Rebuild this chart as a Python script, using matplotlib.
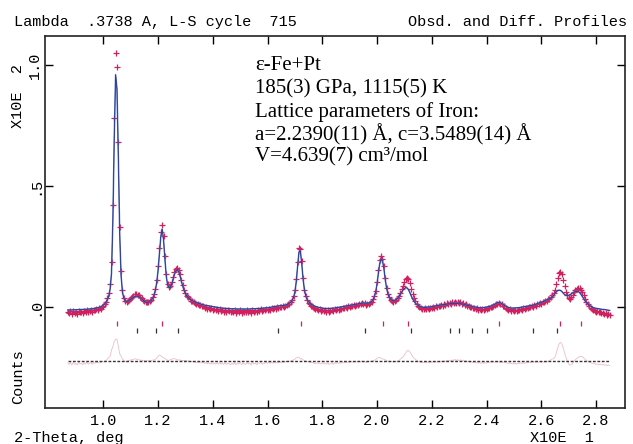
import numpy as np
import matplotlib.pyplot as plt

MONO = 'Liberation Mono'
SERIF = 'Liberation Serif'

# 2-theta grid (x10 deg), one point every 0.005
tt_start = 0.870
tt_step = 0.005

# observed profile, rows of 10 points (0.05 wide)
obs = [
    -0.020, -0.026, -0.018, -0.028, -0.017, -0.024, -0.021, -0.027, -0.015, -0.022,
    -0.019, -0.025, -0.016, -0.022, -0.013, -0.021, -0.018, -0.012, -0.020, -0.011,
    -0.014, -0.008, -0.012, -0.004, -0.006, 0.002, 0.004, 0.012, 0.022, 0.038,
    0.060, 0.095, 0.185, 0.420, 0.780, 1.050, 0.990, 0.680, 0.330, 0.150,
    0.070, 0.038, 0.024, 0.020, 0.026, 0.031, 0.036, 0.042, 0.047, 0.052,
    0.054, 0.050, 0.049, 0.042, 0.038, 0.030, 0.026, 0.020, 0.022, 0.019,
    0.026, 0.030, 0.040, 0.052, 0.075, 0.112, 0.170, 0.245, 0.312, 0.338,
    0.295, 0.210, 0.135, 0.095, 0.082, 0.088, 0.102, 0.125, 0.145, 0.158,
    0.160, 0.152, 0.135, 0.110, 0.090, 0.072, 0.058, 0.047, 0.040, 0.033,
    0.027, 0.026, 0.019, 0.018, 0.012, 0.014, 0.008, 0.009, 0.003, 0.005,
    -0.002, 0.001, -0.006, -0.002, -0.009, -0.004, -0.011, -0.006, -0.013, -0.008,
    -0.015, -0.009, -0.017, -0.012, -0.019, -0.011, -0.020, -0.014, -0.018, -0.022,
    -0.015, -0.021, -0.013, -0.024, -0.016, -0.020, -0.012, -0.023, -0.017, -0.019,
    -0.022, -0.014, -0.020, -0.016, -0.023, -0.011, -0.019, -0.015, -0.021, -0.013,
    -0.016, -0.010, -0.018, -0.012, -0.014, -0.008, -0.013, -0.006, -0.011, -0.004,
    -0.008, -0.002, -0.006, 0.000, -0.003, 0.002, -0.001, 0.004, 0.001, 0.006,
    0.007, 0.012, 0.014, 0.022, 0.030, 0.045, 0.070, 0.118, 0.185, 0.245,
    0.240, 0.190, 0.120, 0.072, 0.044, 0.030, 0.018, 0.012, 0.005, 0.002,
    -0.004, -0.008, -0.006, -0.012, -0.010, -0.015, -0.011, -0.017, -0.014, -0.019,
    -0.013, -0.020, -0.015, -0.012, -0.018, -0.010, -0.014, -0.008, -0.011, -0.006,
    -0.008, -0.003, -0.005, 0.000, -0.002, 0.003, 0.001, 0.006, 0.004, 0.008,
    0.006, 0.010, 0.009, 0.014, 0.011, 0.016, 0.013, 0.015, 0.010, 0.013,
    0.014, 0.018, 0.022, 0.032, 0.045, 0.068, 0.105, 0.155, 0.195, 0.210,
    0.200, 0.168, 0.120, 0.080, 0.052, 0.040, 0.030, 0.026, 0.022, 0.026,
    0.028, 0.036, 0.046, 0.060, 0.075, 0.088, 0.102, 0.114, 0.122, 0.115,
    0.098, 0.075, 0.052, 0.036, 0.024, 0.014, 0.006, 0.002, -0.004, -0.006,
    -0.008, -0.004, -0.009, -0.003, -0.007, -0.002, -0.005, 0.001, -0.002, 0.003,
    0.001, 0.006, 0.003, 0.009, 0.006, 0.012, 0.009, 0.015, 0.012, 0.018,
    0.014, 0.020, 0.016, 0.022, 0.017, 0.021, 0.015, 0.019, 0.012, 0.016,
    0.008, 0.011, 0.003, 0.006, -0.001, 0.002, -0.005, -0.002, -0.008, -0.005,
    -0.011, -0.007, -0.013, -0.009, -0.012, -0.006, -0.009, -0.003, -0.005, 0.001,
    0.000, 0.006, 0.007, 0.012, 0.013, 0.016, 0.012, 0.011, 0.005, 0.003,
    -0.004, -0.006, -0.011, -0.009, -0.015, -0.012, -0.017, -0.013, -0.016, -0.011,
    -0.013, -0.008, -0.011, -0.005, -0.008, -0.002, -0.004, 0.001, -0.001, 0.004,
    0.002, 0.008, 0.006, 0.012, 0.011, 0.016, 0.014, 0.020, 0.019, 0.024,
    0.026, 0.032, 0.035, 0.042, 0.048, 0.058, 0.072, 0.095, 0.122, 0.140,
    0.146, 0.138, 0.112, 0.088, 0.064, 0.048, 0.036, 0.034, 0.040, 0.050,
    0.062, 0.070, 0.076, 0.079, 0.078, 0.072, 0.062, 0.048, 0.034, 0.022,
    0.012, 0.004, -0.002, -0.008, -0.011, -0.015, -0.019, -0.018, -0.022, -0.021,
    -0.025, -0.023, -0.028, -0.026, -0.031, -0.029, -0.033,
]

# calculated profile, same grid
calc = [
    -0.012, -0.012, -0.012, -0.012, -0.011, -0.011, -0.011, -0.011, -0.010, -0.010,
    -0.010, -0.010, -0.009, -0.009, -0.009, -0.008, -0.008, -0.007, -0.007, -0.006,
    -0.005, -0.004, -0.003, -0.001, 0.001, 0.004, 0.008, 0.013, 0.020, 0.030,
    0.045, 0.075, 0.140, 0.360, 0.700, 0.960, 0.900, 0.620, 0.300, 0.130,
    0.062, 0.036, 0.026, 0.024, 0.025, 0.028, 0.032, 0.036, 0.040, 0.043,
    0.045, 0.045, 0.043, 0.039, 0.034, 0.029, 0.024, 0.021, 0.019, 0.020,
    0.023, 0.028, 0.036, 0.048, 0.068, 0.100, 0.150, 0.220, 0.290, 0.322,
    0.280, 0.200, 0.128, 0.092, 0.080, 0.082, 0.095, 0.115, 0.135, 0.150,
    0.155, 0.148, 0.130, 0.108, 0.088, 0.070, 0.056, 0.046, 0.039, 0.034,
    0.030, 0.027, 0.024, 0.021, 0.019, 0.017, 0.015, 0.013, 0.011, 0.010,
    0.008, 0.007, 0.006, 0.005, 0.004, 0.003, 0.002, 0.001, 0.000, -0.001,
    -0.002, -0.003, -0.004, -0.004, -0.005, -0.005, -0.006, -0.006, -0.006, -0.007,
    -0.007, -0.007, -0.007, -0.008, -0.008, -0.008, -0.008, -0.008, -0.008, -0.008,
    -0.008, -0.008, -0.008, -0.008, -0.007, -0.007, -0.007, -0.007, -0.006, -0.006,
    -0.006, -0.005, -0.005, -0.004, -0.004, -0.003, -0.003, -0.002, -0.001, 0.000,
    0.001, 0.002, 0.003, 0.004, 0.005, 0.005, 0.006, 0.006, 0.007, 0.008,
    0.010, 0.012, 0.016, 0.021, 0.028, 0.040, 0.062, 0.105, 0.170, 0.228,
    0.232, 0.180, 0.115, 0.070, 0.045, 0.031, 0.022, 0.016, 0.011, 0.008,
    0.005, 0.003, 0.001, -0.001, -0.002, -0.003, -0.004, -0.005, -0.006, -0.006,
    -0.006, -0.006, -0.005, -0.005, -0.004, -0.004, -0.003, -0.002, -0.001, 0.000,
    0.001, 0.002, 0.003, 0.004, 0.005, 0.006, 0.007, 0.008, 0.009, 0.010,
    0.011, 0.012, 0.013, 0.014, 0.015, 0.016, 0.017, 0.017, 0.016, 0.016,
    0.017, 0.019, 0.023, 0.030, 0.042, 0.062, 0.095, 0.140, 0.180, 0.198,
    0.192, 0.160, 0.115, 0.078, 0.054, 0.040, 0.032, 0.028, 0.027, 0.028,
    0.031, 0.036, 0.044, 0.052, 0.062, 0.071, 0.077, 0.080, 0.079, 0.072,
    0.060, 0.046, 0.034, 0.024, 0.017, 0.011, 0.007, 0.004, 0.002, 0.000,
    -0.001, -0.001, -0.001, 0.000, 0.000, 0.001, 0.002, 0.003, 0.004, 0.005,
    0.006, 0.007, 0.008, 0.009, 0.010, 0.011, 0.011, 0.012, 0.013, 0.014,
    0.014, 0.015, 0.015, 0.015, 0.015, 0.015, 0.014, 0.014, 0.013, 0.012,
    0.010, 0.009, 0.007, 0.006, 0.005, 0.004, 0.002, 0.001, 0.000, -0.001,
    -0.002, -0.003, -0.003, -0.003, -0.002, -0.001, 0.000, 0.001, 0.002, 0.004,
    0.006, 0.009, 0.012, 0.015, 0.018, 0.019, 0.018, 0.015, 0.011, 0.007,
    0.004, 0.001, -0.001, -0.003, -0.004, -0.004, -0.004, -0.004, -0.003, -0.003,
    -0.002, -0.001, 0.000, 0.001, 0.002, 0.003, 0.004, 0.005, 0.006, 0.007,
    0.008, 0.010, 0.012, 0.014, 0.016, 0.018, 0.020, 0.022, 0.024, 0.027,
    0.030, 0.032, 0.035, 0.037, 0.040, 0.048, 0.056, 0.063, 0.068, 0.070,
    0.069, 0.065, 0.058, 0.052, 0.048, 0.047, 0.048, 0.051, 0.055, 0.059,
    0.062, 0.064, 0.065, 0.064, 0.060, 0.053, 0.044, 0.035, 0.026, 0.019,
    0.013, 0.008, 0.004, 0.001, -0.002, -0.004, -0.005, -0.006, -0.007, -0.008,
    -0.009, -0.010, -0.010, -0.011, -0.012, -0.013, -0.014,
]

# reflection markers
pt_ticks = [1.049, 1.214, 1.722, 2.022, 2.112, 2.447, 2.670, 2.745]
fe_ticks = [1.123, 1.191, 1.272, 1.640, 1.957, 2.123, 2.265, 2.299,
            2.346, 2.400, 2.569, 2.657]

diff_offset = -0.223

x_ticks = [1.0, 1.2, 1.4, 1.6, 1.8, 2.0, 2.2, 2.4, 2.6, 2.8]
y_ticks = [0.0, 0.5, 1.0]
y_ticklabels = ['.0', '.5', '1.0']

two_theta = tt_start + tt_step * np.arange(len(obs))
obs = np.array(obs)
calc = np.array(calc)
diff = obs - calc

red = '#d2205e'
fig = plt.figure(figsize=(6.33, 4.44), dpi=100)
ax = fig.add_axes([45 / 633, 1 - 408 / 444, 580 / 633, 372 / 444])

ax.plot(two_theta, obs, '+', color=red, ms=5, mew=0.9, zorder=2)
ax.plot(two_theta, calc, color='#5573d0', lw=1.1, zorder=3)
ax.plot(two_theta, calc, color='#1c1f5a', lw=0.5, alpha=0.8, zorder=4)

# difference curve
ax.plot(two_theta, diff + diff_offset, color='#f0bccd', lw=0.6, zorder=2)
ax.hlines(diff_offset, two_theta[0], two_theta[-1], color='#333333',
          lw=1.0, linestyles=(0, (2, 1.2)), zorder=3)

ax.vlines(pt_ticks, -0.078, -0.058, color=red, lw=0.9)
ax.vlines(fe_ticks, -0.107, -0.085, color='#333333', lw=0.9)

ax.set_xlim(0.787, 2.906)
ax.set_ylim(-0.417, 1.12)
ax.set_xticks(x_ticks)
ax.set_xticklabels([f'{v:.1f}' for v in x_ticks])
ax.set_yticks(y_ticks)
ax.set_yticklabels(y_ticklabels, rotation=90, va='center')
ax.tick_params(axis='both', direction='in', length=6, width=1,
               top=True, right=True, labelsize=11)
ax.tick_params(axis='x', pad=4)
ax.tick_params(axis='y', pad=2)
for lab in ax.get_xticklabels() + ax.get_yticklabels():
    lab.set_fontfamily(MONO)
for s in ax.spines.values():
    s.set_linewidth(1.2)
    s.set_color('#222222')

# header / labels
fig.text(14 / 633, 1 - 22 / 444, 'Lambda  .3738 A, L-S cycle  715',
         family=MONO, fontsize=11, va='center', ha='left')
fig.text(627 / 633, 1 - 22 / 444, 'Obsd. and Diff. Profiles',
         family=MONO, fontsize=11, va='center', ha='right')
fig.text(14 / 633, 1 - 438 / 444, '2-Theta, deg',
         family=MONO, fontsize=11, va='center', ha='left')
fig.text(562 / 633, 1 - 438 / 444, 'X10E  1',
         family=MONO, fontsize=11, va='center', ha='center')
fig.text(18 / 633, 1 - 96 / 444, 'X10E  2', family=MONO, fontsize=11,
         rotation=90, va='center', ha='center')
fig.text(18 / 633, 1 - 377 / 444, 'Counts', family=MONO, fontsize=11,
         rotation=90, va='center', ha='center')

# annotation
notes = ['ε-Fe+Pt',
         '185(3) GPa, 1115(5) K',
         'Lattice parameters of Iron:',
         'a=2.2390(11) Å, c=3.5489(14) Å',
         'V=4.639(7) cm³/mol']
note_y = [66, 89, 112, 135, 157]
for t, y in zip(notes, note_y):
    fig.text(255 / 633, 1 - y / 444, t, family=SERIF, fontsize=15,
             va='center', ha='left')

fig.savefig('out.png', dpi=100)
